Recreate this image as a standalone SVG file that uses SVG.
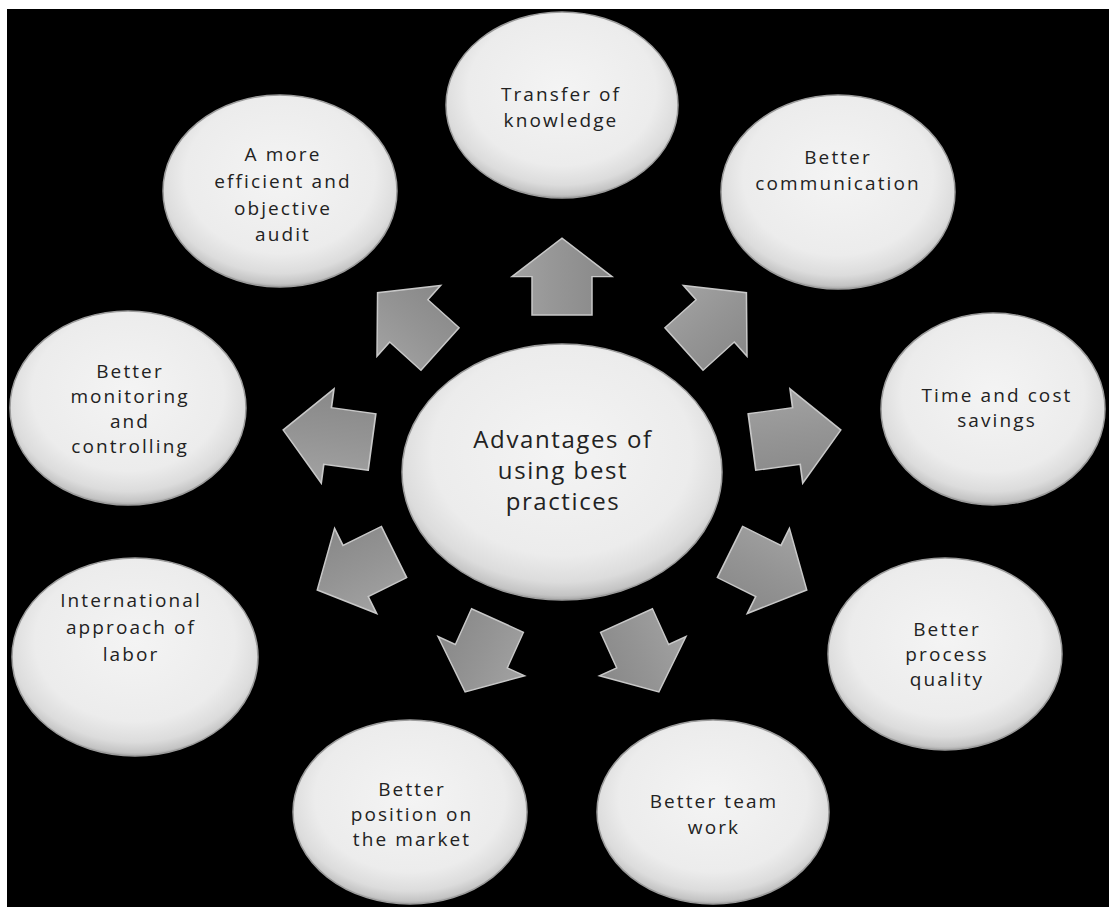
<svg xmlns="http://www.w3.org/2000/svg" xmlns:xlink="http://www.w3.org/1999/xlink" width="1109" height="907" viewBox="0 0 1109 907">
  <style>
    .bubble { fill: url(#bubbleFill); stroke: #9c9c9c; stroke-width: 1.5; }
    .lbl { font-family: "Open Sans", "Liberation Sans", sans-serif; font-size: 19px; fill: #222; text-anchor: middle; letter-spacing: 2.1px; }
    .big { font-size: 24px; letter-spacing: 1.6px; }
    .arrow { fill: url(#arrowFill); stroke: #c8c8c8; stroke-width: 1.5; stroke-linejoin: miter; }
  </style>
  <defs>
    <radialGradient id="bubbleFill" cx="50%" cy="42%" r="58%">
      <stop offset="0" stop-color="#f4f4f4"/>
      <stop offset="0.7" stop-color="#ececec"/>
      <stop offset="0.88" stop-color="#dcdcdc"/>
      <stop offset="0.97" stop-color="#c4c4c4"/>
      <stop offset="1" stop-color="#a8a8a8"/>
    </radialGradient>
    <linearGradient id="arrowFill" x1="0" y1="0" x2="0" y2="1">
      <stop offset="0" stop-color="#a2a2a2"/>
      <stop offset="0.5" stop-color="#949494"/>
      <stop offset="1" stop-color="#888888"/>
    </linearGradient>
    <path id="arr" d="M0,-30 L40,-30 L40,-50 L80,0 L40,50 L40,30 L0,30 Z"/>
  </defs>

  <rect x="0" y="0" width="1109" height="907" fill="#ffffff"/>
  <rect x="7" y="9" width="1102" height="898" fill="#000000"/>

  <g id="connectors">
    <use xlink:href="#arr" href="#arr" class="arrow" transform="translate(562,315) rotate(-90) scale(0.96,1)"/>
    <use xlink:href="#arr" href="#arr" class="arrow" transform="translate(440,349) rotate(-138) scale(1.05,0.95)"/>
    <use xlink:href="#arr" href="#arr" class="arrow" transform="translate(684,349) rotate(-42) scale(1.05,0.95)"/>
    <use xlink:href="#arr" href="#arr" class="arrow" transform="translate(372,442) rotate(187.7) scale(1.12,0.95)"/>
    <use xlink:href="#arr" href="#arr" class="arrow" transform="translate(752,442) rotate(-7.7) scale(1.12,0.95)"/>
    <use xlink:href="#arr" href="#arr" class="arrow" transform="translate(394,552) rotate(153.7) scale(1.07,0.95)"/>
    <use xlink:href="#arr" href="#arr" class="arrow" transform="translate(730,552) rotate(26.3) scale(1.07,0.95)"/>
    <use xlink:href="#arr" href="#arr" class="arrow" transform="translate(497.5,620.5) rotate(114.4) scale(0.98,0.95)"/>
    <use xlink:href="#arr" href="#arr" class="arrow" transform="translate(626.5,620.5) rotate(65.6) scale(0.98,0.95)"/>
  </g>

  <g id="center">
    <ellipse class="bubble" cx="562" cy="472" rx="160" ry="128"/>
    <text class="lbl big" x="563" y="448">Advantages of</text>
    <text class="lbl big" x="563" y="479">using best</text>
    <text class="lbl big" x="563" y="510">practices</text>
  </g>

  <g id="transfer">
    <ellipse class="bubble" cx="562" cy="105" rx="116" ry="93"/>
    <text class="lbl" x="561" y="101">Transfer of</text>
    <text class="lbl" x="561" y="127">knowledge</text>
  </g>

  <g id="audit">
    <ellipse class="bubble" cx="280" cy="191" rx="117" ry="96"/>
    <text class="lbl" x="283" y="161">A more</text>
    <text class="lbl" x="283" y="188">efficient and</text>
    <text class="lbl" x="283" y="215">objective</text>
    <text class="lbl" x="283" y="241">audit</text>
  </g>

  <g id="communication">
    <ellipse class="bubble" cx="838" cy="192" rx="117" ry="97"/>
    <text class="lbl" x="838" y="164">Better</text>
    <text class="lbl" x="838" y="190">communication</text>
  </g>

  <g id="monitoring">
    <ellipse class="bubble" cx="128" cy="408" rx="118" ry="97"/>
    <text class="lbl" x="130" y="378">Better</text>
    <text class="lbl" x="130" y="403">monitoring</text>
    <text class="lbl" x="130" y="428">and</text>
    <text class="lbl" x="130" y="453">controlling</text>
  </g>

  <g id="time-cost">
    <ellipse class="bubble" cx="993" cy="409" rx="112" ry="96"/>
    <text class="lbl" x="997" y="402">Time and cost</text>
    <text class="lbl" x="997" y="427">savings</text>
  </g>

  <g id="international">
    <ellipse class="bubble" cx="135" cy="657" rx="123" ry="99"/>
    <text class="lbl" x="131" y="607">International</text>
    <text class="lbl" x="131" y="634">approach of</text>
    <text class="lbl" x="131" y="661">labor</text>
  </g>

  <g id="process-quality">
    <ellipse class="bubble" cx="945" cy="654" rx="117" ry="96"/>
    <text class="lbl" x="947" y="636">Better</text>
    <text class="lbl" x="947" y="661">process</text>
    <text class="lbl" x="947" y="686">quality</text>
  </g>

  <g id="market-position">
    <ellipse class="bubble" cx="410" cy="812" rx="117" ry="92"/>
    <text class="lbl" x="412" y="796">Better</text>
    <text class="lbl" x="412" y="821">position on</text>
    <text class="lbl" x="412" y="846">the market</text>
  </g>

  <g id="team-work">
    <ellipse class="bubble" cx="713" cy="812" rx="116" ry="92"/>
    <text class="lbl" x="714" y="808">Better team</text>
    <text class="lbl" x="714" y="834">work</text>
  </g>
</svg>
